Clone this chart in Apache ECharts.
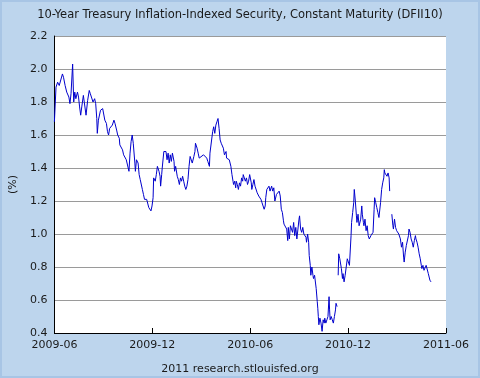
<!DOCTYPE html>
<html><head><meta charset="utf-8">
<script src="https://cdn.jsdelivr.net/npm/echarts@6/dist/echarts.min.js"></script>
<style>
html,body{margin:0;padding:0;}
#wrap{position:absolute;left:0;top:0;width:480px;height:378px;background:#bdd5ed;box-shadow:inset 0 0 0 2px #a8c5e5;}
#chart{width:480px;height:378px;}
</style></head><body>
<div id="wrap"><div id="chart"></div></div>
<script>
const titleText = '10-Year Treasury Inflation-Indexed Security, Constant Maturity (DFII10)';
const footerText = '2011 research.stlouisfed.org';
const yAxisName = '(%)';
const startDate = '2009-06-01';
const xTickLabels = ['2009-06','2009-12','2010-06','2010-12','2011-06'];
const yTicks = [0.4,0.6,0.8,1.0,1.2,1.4,1.6,1.8,2.0,2.2];

const dates = [
'2009-06-01','2009-06-04','2009-06-07','2009-06-10','2009-06-13','2009-06-16','2009-06-18','2009-06-21','2009-06-24','2009-06-28','2009-06-30',
'2009-07-02','2009-07-05','2009-07-07','2009-07-09','2009-07-11','2009-07-14','2009-07-16','2009-07-18','2009-07-20','2009-07-22','2009-07-25','2009-07-27','2009-07-30',
'2009-08-02','2009-08-05','2009-08-07','2009-08-10','2009-08-12','2009-08-15','2009-08-17','2009-08-19','2009-08-20','2009-08-22','2009-08-25','2009-08-26','2009-08-30','2009-08-31',
'2009-09-03','2009-09-06','2009-09-08','2009-09-10','2009-09-12','2009-09-15','2009-09-17','2009-09-20','2009-09-22','2009-09-25','2009-09-27','2009-09-30',
'2009-10-01','2009-10-03','2009-10-06','2009-10-08','2009-10-11','2009-10-13','2009-10-18','2009-10-20','2009-10-22','2009-10-24','2009-10-26','2009-10-29','2009-10-30',
'2009-11-01','2009-11-04','2009-11-06','2009-11-08','2009-11-10','2009-11-12','2009-11-14','2009-11-16','2009-11-18','2009-11-20','2009-11-22','2009-11-24','2009-11-26','2009-11-28','2009-11-30',
'2009-12-02','2009-12-03','2009-12-06','2009-12-08','2009-12-10','2009-12-13','2009-12-15','2009-12-16','2009-12-18','2009-12-19','2009-12-22','2009-12-24','2009-12-26','2009-12-28','2009-12-30',
'2010-01-01','2010-01-03','2010-01-05','2010-01-07','2010-01-10','2010-01-11','2010-01-13','2010-01-16','2010-01-18','2010-01-20','2010-01-22','2010-01-24','2010-01-26','2010-01-28','2010-01-30',
'2010-02-01','2010-02-03','2010-02-05','2010-02-07','2010-02-09','2010-02-11','2010-02-13','2010-02-16','2010-02-18','2010-02-19','2010-02-22','2010-02-24','2010-02-26','2010-02-28',
'2010-03-06','2010-03-09','2010-03-12','2010-03-14','2010-03-17','2010-03-18','2010-03-20','2010-03-23','2010-03-25','2010-03-27','2010-03-29','2010-03-31',
'2010-04-02','2010-04-03','2010-04-04','2010-04-06','2010-04-08','2010-04-10','2010-04-12','2010-04-14','2010-04-17','2010-04-18','2010-04-20','2010-04-23','2010-04-25','2010-04-26','2010-04-28','2010-04-30',
'2010-05-01','2010-05-03','2010-05-05','2010-05-06','2010-05-08','2010-05-10','2010-05-12','2010-05-14','2010-05-16','2010-05-18','2010-05-19','2010-05-21','2010-05-23','2010-05-25','2010-05-27','2010-05-29','2010-05-31',
'2010-06-01','2010-06-03','2010-06-04','2010-06-06','2010-06-08','2010-06-10','2010-06-12','2010-06-14','2010-06-16','2010-06-17','2010-06-19','2010-06-21','2010-06-23','2010-06-26','2010-06-27','2010-06-29','2010-06-30',
'2010-07-02','2010-07-04','2010-07-06','2010-07-08','2010-07-10','2010-07-11','2010-07-13','2010-07-15','2010-07-17','2010-07-18','2010-07-20','2010-07-22','2010-07-25','2010-07-27','2010-07-29','2010-07-31',
'2010-08-02','2010-08-03','2010-08-05','2010-08-08','2010-08-10','2010-08-11','2010-08-13','2010-08-15','2010-08-18','2010-08-19','2010-08-21','2010-08-23','2010-08-25','2010-08-27','2010-08-29','2010-08-31',
'2010-09-01','2010-09-03','2010-09-05','2010-09-07','2010-09-09','2010-09-11','2010-09-13','2010-09-14','2010-09-16','2010-09-18','2010-09-19','2010-09-21','2010-09-22','2010-09-24','2010-09-26','2010-09-27','2010-09-29',
'2010-10-01','2010-10-02','2010-10-04','2010-10-05','2010-10-06','2010-10-07','2010-10-09','2010-10-11','2010-10-13','2010-10-15','2010-10-17','2010-10-18','2010-10-20','2010-10-22','2010-10-24','2010-10-26','2010-10-27','2010-10-28','2010-10-30',
'2010-11-01','2010-11-03','2010-11-05','2010-11-07','2010-11-08','2010-11-10','2010-11-11','2010-11-12','2010-11-13','2010-11-15','2010-11-18','2010-11-20','2010-11-21','2010-11-23','2010-11-25','2010-11-27','2010-11-29',
'2010-12-01','2010-12-03','2010-12-04','2010-12-06','2010-12-07','2010-12-09','2010-12-11','2010-12-12','2010-12-14','2010-12-16','2010-12-17','2010-12-19','2010-12-21','2010-12-22','2010-12-24','2010-12-26','2010-12-27','2010-12-29','2010-12-30',
'2011-01-01','2011-01-03','2011-01-05','2011-01-07','2011-01-09','2011-01-10','2011-01-12','2011-01-14','2011-01-16','2011-01-18','2011-01-19','2011-01-21','2011-01-23','2011-01-25','2011-01-27','2011-01-28','2011-01-30',
'2011-02-01','2011-02-03','2011-02-05','2011-02-06','2011-02-07','2011-02-09','2011-02-11','2011-02-13','2011-02-15','2011-02-16','2011-02-18','2011-02-20','2011-02-22','2011-02-23','2011-02-25','2011-02-27',
'2011-03-01','2011-03-03','2011-03-05','2011-03-07','2011-03-08','2011-03-10','2011-03-12','2011-03-14','2011-03-15','2011-03-17','2011-03-19','2011-03-21','2011-03-23','2011-03-24','2011-03-26','2011-03-28','2011-03-30',
'2011-04-01','2011-04-03','2011-04-05','2011-04-06','2011-04-08','2011-04-10','2011-04-12','2011-04-14','2011-04-16','2011-04-17','2011-04-19','2011-04-21','2011-04-23','2011-04-25','2011-04-27','2011-04-29','2011-04-30',
'2011-05-02','2011-05-04'
];

const values = [
1.68,1.89,1.92,1.90,1.91,1.97,1.95,1.90,1.86,1.83,1.79,
1.85,2.03,1.80,1.86,1.82,1.86,1.83,1.77,1.72,1.77,1.84,1.85,1.72,
1.81,1.87,1.85,1.86,1.80,1.82,1.79,1.70,1.61,1.69,1.70,1.75,1.76,1.75,
1.69,1.67,1.62,1.60,1.64,1.65,1.66,1.69,1.67,1.63,1.60,1.58,
1.54,1.53,1.51,1.48,1.49,1.45,1.38,1.49,1.56,1.60,1.55,1.43,1.38,
1.45,1.43,1.36,1.33,1.32,1.27,1.24,1.21,1.22,1.21,1.21,1.16,1.16,1.14,1.17,
1.22,1.34,1.32,1.36,1.41,1.38,1.35,1.29,1.36,1.40,1.50,1.49,1.50,1.45,1.49,
1.43,1.48,1.44,1.49,1.44,1.38,1.41,1.35,1.33,1.30,1.34,1.32,1.35,1.32,1.29,
1.27,1.29,1.33,1.41,1.47,1.46,1.43,1.47,1.50,1.55,1.52,1.49,1.46,1.47,
1.48,1.49,1.46,1.44,1.41,1.49,1.50,1.62,1.65,1.61,1.66,1.68,
1.70,1.70,1.64,1.57,1.55,1.56,1.52,1.48,1.50,1.46,1.47,1.45,1.46,1.41,1.36,1.32,
1.30,1.32,1.28,1.32,1.30,1.27,1.31,1.29,1.34,1.32,1.36,1.35,1.32,1.34,1.30,1.32,1.36,
1.35,1.31,1.27,1.30,1.33,1.29,1.30,1.25,1.26,1.23,1.22,1.21,1.19,1.18,1.15,1.17,1.22,
1.27,1.26,1.29,1.26,1.27,1.29,1.26,1.28,1.20,1.21,1.24,1.25,1.26,1.23,1.15,1.13,
1.08,1.06,1.07,1.03,0.96,1.04,0.97,1.05,1.06,1.01,1.07,0.99,1.04,0.97,1.03,1.09,
1.11,1.03,1.01,1.04,1.00,1.00,0.98,0.95,1.00,0.95,0.87,0.81,0.75,0.80,0.75,0.73,0.75,
0.74,0.67,0.59,0.55,0.50,0.45,0.49,0.46,0.41,0.48,0.46,0.49,0.46,0.48,0.50,0.62,0.54,0.48,0.50,
0.48,0.46,0.50,0.54,0.58,0.56,null,0.75,0.88,0.85,0.79,0.73,0.76,0.71,0.75,0.76,0.85,
0.86,0.81,0.80,0.99,1.07,1.13,1.19,1.27,1.20,1.11,1.07,1.12,1.05,1.06,1.09,1.17,1.12,1.07,1.05,
1.09,1.02,1.05,0.99,0.97,0.98,0.99,0.99,1.01,1.15,1.22,1.19,1.16,1.13,1.10,1.09,1.19,
1.27,1.31,1.34,1.39,1.37,1.38,1.35,1.37,1.34,1.26,null,1.12,1.05,1.03,1.09,1.04,
1.02,1.03,1.00,0.99,0.97,0.92,0.95,0.86,0.83,0.89,0.93,0.92,0.99,1.03,1.01,0.97,0.95,
0.92,0.96,0.99,0.97,0.95,0.92,0.88,0.85,0.81,0.79,0.81,0.78,0.77,0.81,0.80,0.76,0.75,
0.72,0.71
];

const DAY = 86400000;
const t0 = Date.parse(startDate);
const dayOf = s => Math.round((Date.parse(s) - t0) / DAY);
const xMax = dayOf(xTickLabels[xTickLabels.length - 1] + '-01');
const xStep = xMax / (xTickLabels.length - 1);
const seriesData = dates.map((d, i) => [dayOf(d), values[i]]);

const font = 'DejaVu Sans';
const chart = echarts.init(document.getElementById('chart'), null, {renderer: 'canvas'});
chart.setOption({
  animation: false,
  backgroundColor: 'transparent',
  title: {
    text: titleText, left: 'center', top: 4,
    textStyle: {fontFamily: font, fontSize: 11.5, fontWeight: 'normal', color: '#1a1a1a'}
  },
  graphic: [{
    type: 'text', left: 'center', top: 364,
    style: {text: footerText, font: '11px "DejaVu Sans"', fill: '#1a1a1a'}
  }],
  grid: {left: 52, right: 34, top: 36, bottom: 45, backgroundColor: '#ffffff', show: true, borderWidth: 0},
  xAxis: {
    type: 'value', min: 0, max: xMax, interval: xStep,
    axisLine: {show: true, lineStyle: {color: '#000', width: 1}},
    axisTick: {show: true, inside: true, length: 5, lineStyle: {color: '#000'}},
    splitLine: {show: false},
    axisLabel: {
      showMinLabel: true, showMaxLabel: true, margin: 7,
      fontFamily: font, fontSize: 11, color: '#1a1a1a',
      formatter: v => xTickLabels[Math.round(v / xStep)] || ''
    }
  },
  yAxis: {
    type: 'value', min: yTicks[0], max: yTicks[yTicks.length - 1], interval: 0.2,
    name: yAxisName, nameLocation: 'middle', nameRotate: 90, nameGap: 31,
    nameTextStyle: {fontFamily: font, fontSize: 11, color: '#1a1a1a'},
    axisLine: {show: true, lineStyle: {color: '#000', width: 1}},
    axisTick: {show: false},
    splitLine: {show: true, lineStyle: {color: '#9a9a9a', width: 1}},
    axisLabel: {
      margin: 7, fontFamily: font, fontSize: 11, color: '#1a1a1a',
      formatter: v => v.toFixed(1)
    }
  },
  series: [{
    type: 'line', data: seriesData, showSymbol: false, connectNulls: false,
    lineStyle: {color: '#0000cc', width: 1}, itemStyle: {color: '#0000cc'}
  }]
});
</script>
</body></html>
